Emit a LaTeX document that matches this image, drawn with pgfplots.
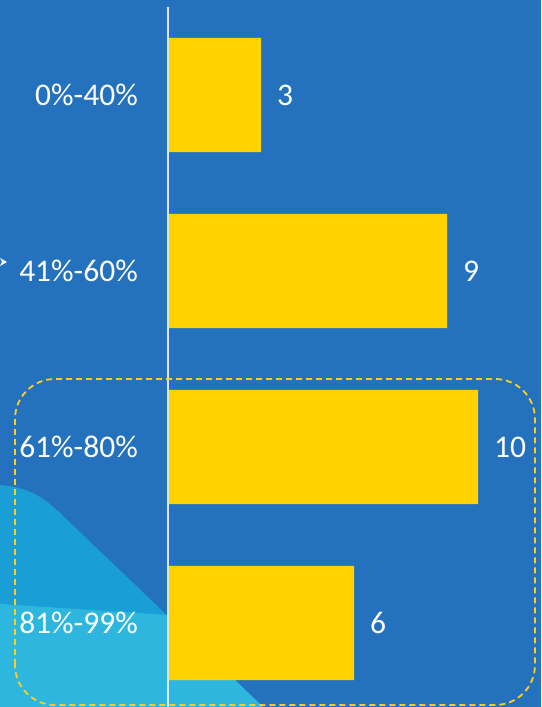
\documentclass[border=0pt]{standalone}
\usepackage{pgfplots}
\pgfplotsset{compat=1.18}
\usepackage{fontspec}
\setmainfont{Carlito}
\definecolor{bgblue}{RGB}{36,113,190}
\definecolor{midblue}{RGB}{26,158,214}
\definecolor{lightblue}{RGB}{45,183,222}
\definecolor{baryellow}{RGB}{255,210,0}
\definecolor{dashyellow}{RGB}{255,205,30}
\definecolor{axisline}{RGB}{225,230,240}
\begin{document}
\begin{tikzpicture}
\useasboundingbox (0pt,0pt) rectangle (541pt,707pt);
\fill[bgblue] (0pt,0pt) rectangle (541pt,707pt);
\fill[midblue] (0pt,222pt) .. controls (30pt,220pt) and (45pt,208pt) .. (60pt,194pt) -- (263pt,0pt) -- (0pt,0pt) -- cycle;
\fill[lightblue] (0pt,103pt) -- (168pt,92pt) -- (263pt,0pt) -- (0pt,0pt) -- cycle;
\fill[white] (0pt,449pt) -- (7pt,445pt) -- (0pt,441pt) -- (2pt,445pt) -- cycle;
\begin{axis}[
  at={(168pt,0pt)}, anchor=south west,
  scale only axis, width=373pt, height=707pt,
  xmin=0, xmax=12.032,
  ymin=-0.5398, ymax=3.4773,
  y dir=reverse,
  clip=false,
  hide x axis,
  axis line style={draw=none},
  tick style={draw=none},
  ytick={0,1,2,3},
  yticklabels={0\%-40\%,41\%-60\%,61\%-80\%,81\%-99\%},
  yticklabel style={anchor=east, inner sep=0pt, xshift=-30pt, text=white, font=\fontsize{31.5}{36}\selectfont},
  /pgf/number format/assume math mode=true,
]
\addplot[xbar, fill=baryellow, draw=none, bar width=0.648,
  nodes near coords, nodes near coords align=horizontal,
  every node near coord/.append style={anchor=west, inner sep=0pt, xshift=16pt, text=white, font=\fontsize{31.5}{36}\selectfont}]
  coordinates {(3,0) (9,1) (10,2) (6,3)};
\draw[axisline, line width=1.5pt] (axis cs:0,-0.5) -- (axis cs:0,3.4773);
\end{axis}
\draw[dashyellow, line width=1.8pt, dash pattern=on 6pt off 4pt, rounded corners=40pt] (15pt,2pt) rectangle (535pt,328pt);
\end{tikzpicture}
\end{document}
